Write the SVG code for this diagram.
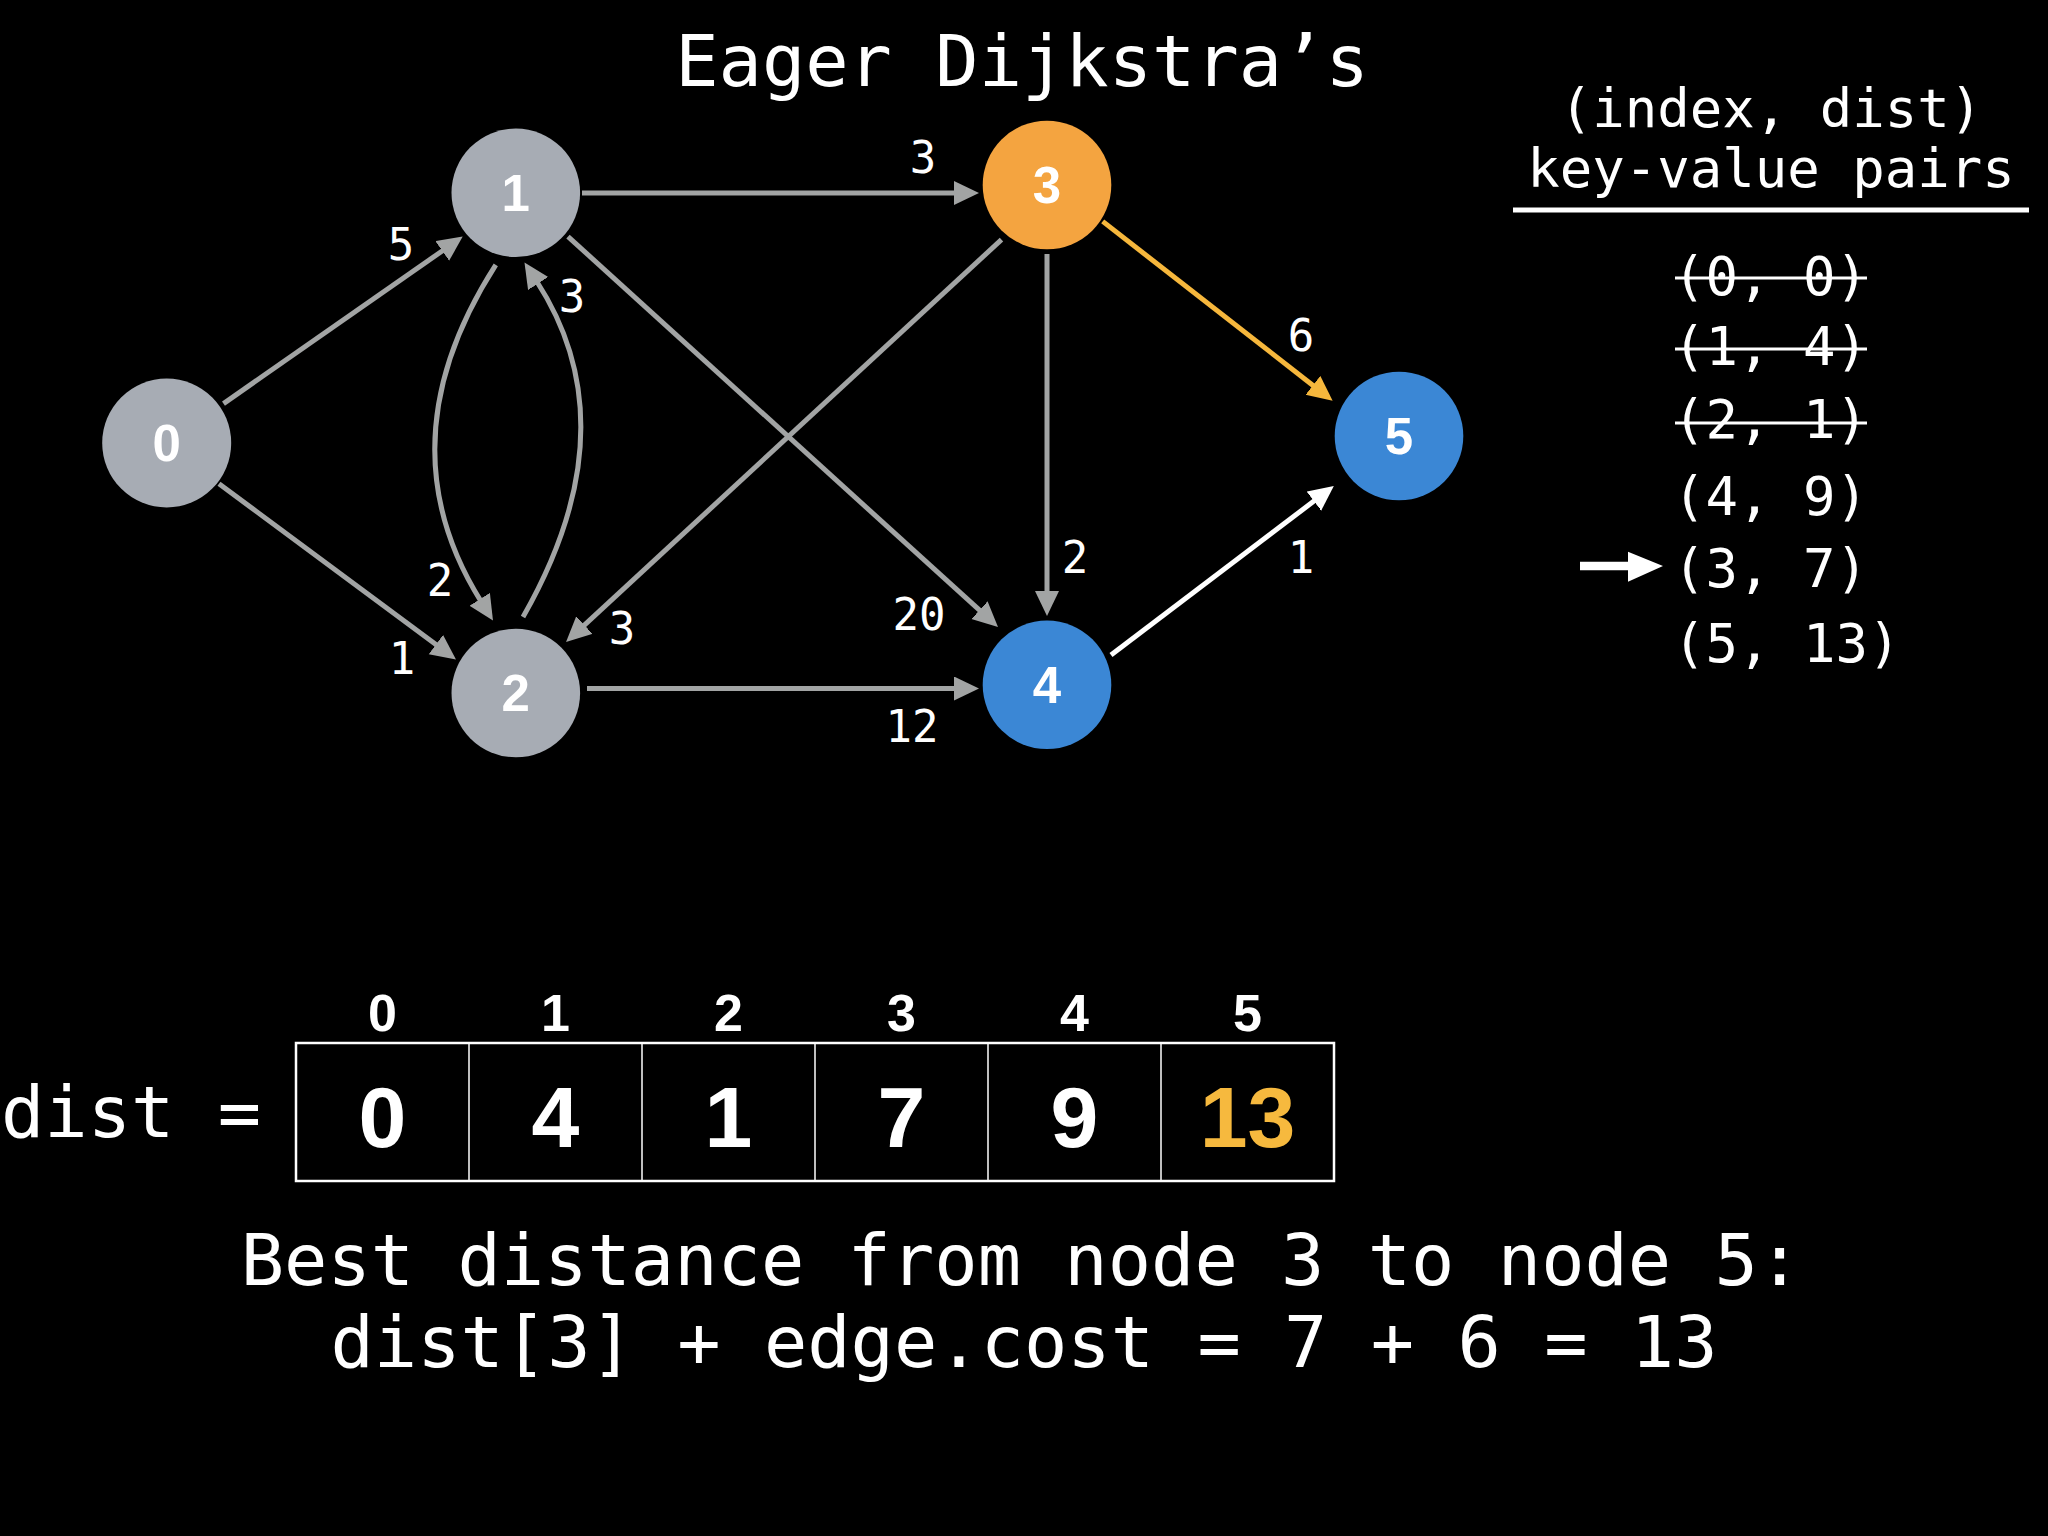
<svg xmlns="http://www.w3.org/2000/svg" width="2048" height="1536" viewBox="0 0 2048 1536">
<style>
.mono{font-family:"DejaVu Sans Mono","Liberation Mono",monospace;fill:#fff}
.title{font-size:72px;text-anchor:middle}
.elab{font-size:44px;text-anchor:middle}
.kv{font-size:54px}
.hd{font-size:54px;text-anchor:middle}
.nlab{font-family:"Liberation Sans",Arial,sans-serif;font-weight:bold;font-size:51px;fill:#fff;text-anchor:middle}
.idx{font-family:"Liberation Sans",Arial,sans-serif;font-weight:bold;font-size:52px;fill:#fff;text-anchor:middle}
.val{font-family:"Liberation Sans",Arial,sans-serif;font-weight:bold;font-size:86px;fill:#fff;text-anchor:middle}
.gray{fill:#A7ACB4}.orange{fill:#F4A440}.blue{fill:#3B87D5}
.e{fill:none;stroke:#A2A4A4;stroke-width:5}
.strike{stroke:#fff;stroke-width:3}
</style>
<defs>
<marker id="ag" markerUnits="userSpaceOnUse" markerWidth="26" markerHeight="26" refX="3" refY="12" orient="auto"><path d="M0,0 L25,12 L0,24 z" fill="#A2A4A4"/></marker>
<marker id="ao" markerUnits="userSpaceOnUse" markerWidth="26" markerHeight="26" refX="3" refY="12" orient="auto"><path d="M0,0 L25,12 L0,24 z" fill="#F6B73C"/></marker>
<marker id="aw" markerUnits="userSpaceOnUse" markerWidth="26" markerHeight="26" refX="3" refY="12" orient="auto"><path d="M0,0 L25,12 L0,24 z" fill="#FFFFFF"/></marker>
</defs>
<rect width="2048" height="1536" fill="#000"/>
<text class="mono title" x="1022" y="86">Eager Dijkstra’s</text>

<g id="connectors">
<line class="e" x1="582" y1="193" x2="957" y2="193" marker-end="url(#ag)"/>
<line class="e" x1="223.5" y1="403.6" x2="444.7" y2="249.2" marker-end="url(#ag)"/>
<line class="e" x1="219" y1="483.8" x2="438.3" y2="646.3" marker-end="url(#ag)"/>
<path class="e" d="M495.8,264.8 Q381.5,442.7 481.3,601.8" marker-end="url(#ag)"/>
<path class="e" d="M523,617 Q631.5,427 536.5,281" marker-end="url(#ag)"/>
<line class="e" x1="1001.5" y1="239.6" x2="582.2" y2="627.1" marker-end="url(#ag)"/>
<line class="e" x1="568" y1="236.6" x2="981.7" y2="612.2" marker-end="url(#ag)"/>
<line class="e" x1="587" y1="688.5" x2="957" y2="688.5" marker-end="url(#ag)"/>
<line class="e" x1="1047" y1="254" x2="1047" y2="594" marker-end="url(#ag)"/>
<line class="e" style="stroke:#F6B73C" x1="1102.7" y1="221.4" x2="1315.3" y2="387.2" marker-end="url(#ao)"/>
<line class="e" style="stroke:#FFFFFF" x1="1111" y1="655" x2="1316.3" y2="499.3" marker-end="url(#aw)"/>
<text class="mono elab" x="923" y="173">3</text>
<text class="mono elab" x="401" y="260">5</text>
<text class="mono elab" x="572" y="312">3</text>
<text class="mono elab" x="440" y="596">2</text>
<text class="mono elab" x="402" y="674">1</text>
<text class="mono elab" x="622" y="644">3</text>
<text class="mono elab" x="919" y="630">20</text>
<text class="mono elab" x="912" y="742">12</text>
<text class="mono elab" x="1075" y="573">2</text>
<text class="mono elab" x="1301" y="351">6</text>
<text class="mono elab" x="1301" y="573">1</text>
</g>

<g id="node0"><circle class="gray" cx="166.7" cy="443" r="64.5"/><text class="nlab" x="166.7" y="461">0</text></g>
<g id="node1"><circle class="gray" cx="515.8" cy="192.8" r="64.3"/><text class="nlab" x="515.8" y="211">1</text></g>
<g id="node2"><circle class="gray" cx="515.8" cy="693" r="64.3"/><text class="nlab" x="515.8" y="711">2</text></g>
<g id="node3"><circle class="orange" cx="1047" cy="185" r="64.3"/><text class="nlab" x="1047" y="203">3</text></g>
<g id="node4"><circle class="blue" cx="1047" cy="684.8" r="64.3"/><text class="nlab" x="1047" y="703">4</text></g>
<g id="node5"><circle class="blue" cx="1399" cy="436" r="64.3"/><text class="nlab" x="1399" y="454">5</text></g>

<g id="queue">
<text class="mono hd" x="1771" y="127">(index, dist)</text>
<text class="mono hd" x="1771" y="187">key-value pairs</text>
<line x1="1513" y1="210" x2="2029" y2="210" stroke="#fff" stroke-width="5"/>
<text class="mono kv" x="1673" y="295">(0, 0)</text>
<line class="strike" x1="1675" y1="278" x2="1867" y2="278"/>
<text class="mono kv" x="1673" y="365">(1, 4)</text>
<line class="strike" x1="1675" y1="349" x2="1867" y2="349"/>
<text class="mono kv" x="1673" y="438">(2, 1)</text>
<line class="strike" x1="1675" y1="423" x2="1867" y2="423"/>
<text class="mono kv" x="1673" y="515">(4, 9)</text>
<text class="mono kv" x="1673" y="587">(3, 7)</text>
<text class="mono kv" x="1673" y="662">(5, 13)</text>
<path d="M1580,561.8 L1628,561.8 L1628,551.7 L1663,566 L1628,581.7 L1628,570.2 L1580,570.2 z" fill="#fff"/>
</g>

<g id="dist-array">
<text class="mono" style="font-size:72px" x="1" y="1137">dist =</text>
<rect x="296" y="1043" width="1038" height="138" fill="none" stroke="#fff" stroke-width="2.5"/>
<g stroke="#fff" stroke-width="1.5">
<line x1="469" y1="1043" x2="469" y2="1181"/>
<line x1="642" y1="1043" x2="642" y2="1181"/>
<line x1="815" y1="1043" x2="815" y2="1181"/>
<line x1="988" y1="1043" x2="988" y2="1181"/>
<line x1="1161" y1="1043" x2="1161" y2="1181"/>
</g>
<text class="idx" x="382.5" y="1031">0</text>
<text class="idx" x="555.5" y="1031">1</text>
<text class="idx" x="728.5" y="1031">2</text>
<text class="idx" x="901.5" y="1031">3</text>
<text class="idx" x="1074.5" y="1031">4</text>
<text class="idx" x="1247.5" y="1031">5</text>
<text class="val" x="382.5" y="1147">0</text>
<text class="val" x="555.5" y="1147">4</text>
<text class="val" x="728.5" y="1147">1</text>
<text class="val" x="901.5" y="1147">7</text>
<text class="val" x="1074.5" y="1147">9</text>
<text class="val" x="1247.5" y="1147" style="fill:#F6B93E">13</text>
</g>

<text class="mono title" x="1021" y="1285">Best distance from node 3 to node 5:</text>
<text class="mono title" x="1024" y="1367">dist[3] + edge.cost = 7 + 6 = 13</text>
</svg>
